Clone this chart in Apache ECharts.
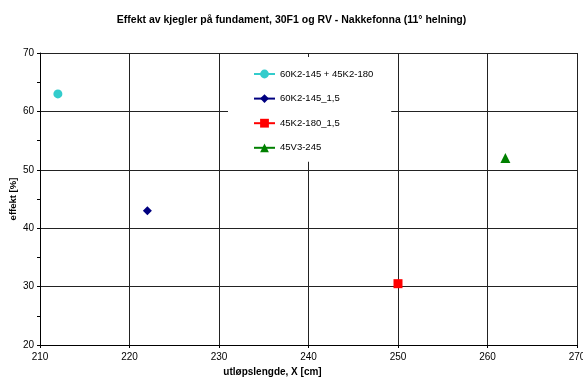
<!DOCTYPE html>
<html>
<head>
<meta charset="utf-8">
<script src="https://cdn.jsdelivr.net/npm/echarts@6/dist/echarts.min.js"></script>
<style>
  html, body { margin: 0; padding: 0; background: #fff; }
  #chart { width: 583px; height: 378px; }
</style>
</head>
<body>
<div id="chart"></div>
<script>
// serier: navn, punkt [x, y], farge, symbol
const seriesNames = ['60K2-145 + 45K2-180', '60K2-145_1,5', '45K2-180_1,5', '45V3-245'];
const seriesPoints = [[212, 63], [222, 43], [250, 30.5], [262, 52]];
const seriesColors = ['#33CCCC', '#000080', '#FF0000', '#008000'];
const seriesSymbols = ['circle', 'diamond', 'rect', 'triangle'];
const symbolSizes = [9, 9, 9, 10];

const chart = echarts.init(document.getElementById('chart'));

const fontFam = 'Liberation Sans, Arial, sans-serif';

chart.setOption({
  backgroundColor: '#fff',
  animation: false,
  title: {
    text: 'Effekt av kjegler på fundament, 30F1 og RV - Nakkefonna (11° helning)',
    left: 'center',
    top: 10,
    textStyle: { fontSize: 10.5, fontWeight: 'bold', color: '#000', fontFamily: fontFam }
  },
  legend: {
    orient: 'vertical',
    left: 228,
    top: 57,
    itemGap: 14.6,
    itemWidth: 21,
    itemHeight: 11,
    backgroundColor: '#fff',
    padding: [12, 18, 9, 25],
    textStyle: { fontSize: 9.5, color: '#000', fontFamily: fontFam },
    data: seriesNames
  },
  grid: { left: 40, right: 6, top: 53, bottom: 33, outerBoundsMode: 'none' },
  xAxis: {
    type: 'value',
    min: 210, max: 270, interval: 10,
    name: 'utløpslengde, X [cm]',
    nameLocation: 'middle',
    nameGap: 22,
    nameMoveOverlap: false,
    nameTextStyle: { fontSize: 10, fontWeight: 'bold', color: '#000', fontFamily: fontFam, padding: [0, 72, 0, 0] },
    axisLine: { lineStyle: { color: '#000' } },
    axisTick: { length: 3, lineStyle: { color: '#000' } },
    axisLabel: { fontSize: 10, color: '#000', fontFamily: fontFam, margin: 7 },
    splitLine: { lineStyle: { color: '#222', width: 1 } }
  },
  yAxis: {
    type: 'value',
    min: 20, max: 70, interval: 10,
    name: 'effekt [%]',
    nameLocation: 'middle',
    nameGap: 22,
    nameMoveOverlap: false,
    nameTextStyle: { fontSize: 9.5, fontWeight: 'bold', color: '#000', fontFamily: fontFam },
    axisLine: { show: true, lineStyle: { color: '#000' } },
    axisTick: { show: true, length: 3, lineStyle: { color: '#000' } },
    minorTick: { show: true, splitNumber: 2, length: 3, lineStyle: { color: '#000' } },
    axisLabel: { fontSize: 10, color: '#000', fontFamily: fontFam, margin: 6 },
    splitLine: { lineStyle: { color: '#222', width: 1 } }
  },
  series: seriesNames.map((name, i) => ({
    name: name,
    type: 'line',
    data: [seriesPoints[i]],
    symbol: seriesSymbols[i],
    symbolSize: symbolSizes[i],
    itemStyle: { color: seriesColors[i] },
    lineStyle: { color: seriesColors[i], width: 1 },
    z: 3
  }))
});
</script>
</body>
</html>
